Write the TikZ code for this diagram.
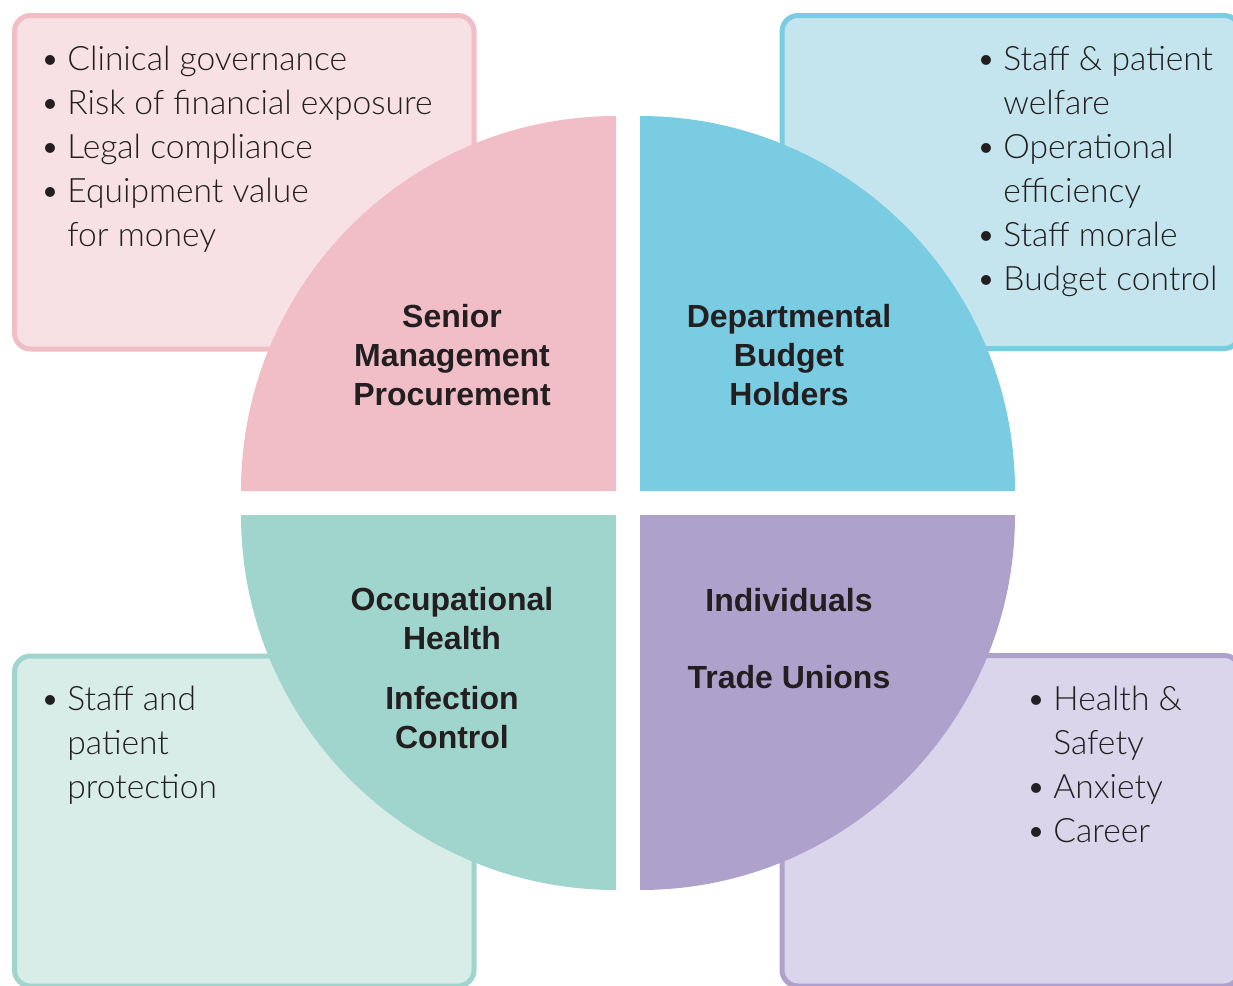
\documentclass[tikz,border=0pt]{standalone}
\usepackage{fontspec}
\setmainfont{Liberation Sans}
\newfontfamily\listfont{Lato Light}
\usepackage{tikz}
\usetikzlibrary{calc,positioning}

\definecolor{pinkdark}{HTML}{F1BEC8}
\definecolor{pinklight}{HTML}{F7E1E5}
\definecolor{bluedark}{HTML}{7ACCE3}
\definecolor{bluelight}{HTML}{C5E5EE}
\definecolor{tealdark}{HTML}{A0D5CE}
\definecolor{teallight}{HTML}{D8EDE8}
\definecolor{purpledark}{HTML}{AEA2CD}
\definecolor{purplelight}{HTML}{DAD5EA}
\definecolor{ink}{HTML}{231F20}

\newcommand{\itm}[1]{\makebox[13.5pt][l]{\textbullet}#1}
\newcommand{\cnt}[1]{\hspace*{13.5pt}#1}

\tikzset{
    infobox/.style={line width=2.5pt, rounded corners=8pt},
    quarter/.style={draw=none},
    listtext/.style={anchor=north west, inner sep=0pt, align=left, text=ink,
        font=\listfont\fontsize{16.8}{22}\selectfont},
    grouplabel/.style={align=center, inner sep=0pt, text=ink,
        font=\bfseries\fontsize{16}{19.5}\selectfont}
}

\begin{document}
\begin{tikzpicture}[x=0.5pt,y=-0.5pt]
    \useasboundingbox (0,0) rectangle (1233,986);
    % boxes behind
    \draw[infobox, draw=pinkdark, fill=pinklight] (14.5,15.5) rectangle (474,349);
    \draw[infobox, draw=bluedark, fill=bluelight] (782,15.5) rectangle (1240,348.5);
    \draw[infobox, draw=tealdark, fill=teallight] (14.5,656) rectangle (474,986);
    \draw[infobox, draw=purpledark, fill=purplelight] (782,655.5) rectangle (1240,986);
    % quarters (y axis points down, so angles turn clockwise)
    \fill[quarter, pinkdark] (616,491) -- (241,491) arc[start angle=180, end angle=270, radius=375] -- cycle;
    \fill[quarter, bluedark] (640,491) -- (640,116) arc[start angle=270, end angle=360, radius=375] -- cycle;
    \fill[quarter, tealdark] (616,515) -- (616,890) arc[start angle=90, end angle=180, radius=375] -- cycle;
    \fill[quarter, purpledark] (640,515) -- (1015,515) arc[start angle=0, end angle=90, radius=375] -- cycle;
    % lists
    \node[listtext] (riskslist) at (40,46) {\itm{Clinical governance}\\ \itm{Risk of financial exposure}\\
        \itm{Legal compliance}\\ \itm{Equipment value}\\ \cnt{for money}};
    \node[listtext] (welfarelist) at (976,46) {\itm{Staff \& patient}\\ \cnt{welfare}\\
        \itm{Operational}\\ \cnt{efficiency}\\ \itm{Staff morale}\\ \itm{Budget control}};
    \node[listtext] (protectlist) at (40,686) {\itm{Staff and}\\ \cnt{patient}\\ \cnt{protection}};
    \node[listtext] (safetylist) at (1026,686) {\itm{Health \&}\\ \cnt{Safety}\\ \itm{Anxiety}\\ \itm{Career}};
    % group labels
    \node[grouplabel] (senior) at (452,355) {Senior\\ Management\\ Procurement};
    \node[grouplabel] (budget) at (789,355) {Departmental\\ Budget\\ Holders};
    \node[grouplabel] (occhealth) at (452,619) {Occupational\\ Health};
    \node[grouplabel] (infection) at (452,717.5) {Infection\\ Control};
    \node[grouplabel] (individuals) at (789,600) {Individuals};
    \node[grouplabel] (unions) at (789,677) {Trade Unions};
\end{tikzpicture}
\end{document}
